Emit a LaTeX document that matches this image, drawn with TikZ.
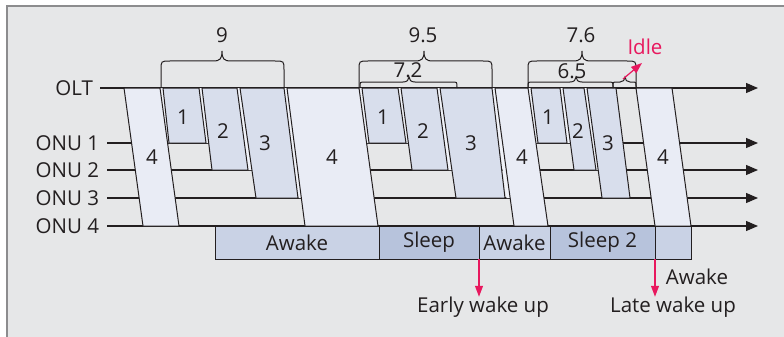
\documentclass[tikz,border=0pt]{standalone}
\usepackage{fontspec}
\setmainfont{Open Sans}
\usetikzlibrary{arrows.meta,calc}
\definecolor{bg}{RGB}{230,231,232}
\definecolor{framec}{RGB}{140,140,142}
\definecolor{ink}{RGB}{35,31,32}
\definecolor{slotf}{RGB}{216,222,236}
\definecolor{slotg}{RGB}{233,236,245}
\definecolor{gapf}{RGB}{240,242,248}
\definecolor{awakef}{RGB}{201,210,229}
\definecolor{sleepf}{RGB}{183,195,220}
\definecolor{hot}{RGB}{232,24,94}
\newcommand\slotpg[6]{\filldraw[slotline,#1] (#2,88) -- (#3,88) -- (#6,#4) -- (#5,#4) -- cycle;}
\newcommand\gapfill[3]{\fill[gapf] (#1-1,88) -- (#2+1,88) -- ($(#2+1,88)+(0.14*#3-12.32,#3-88)$) -- ($(#1-1,88)+(0.14*#3-12.32,#3-88)$) -- cycle;}
\newcommand\bracedraw[7]{%
  \draw[bracestyle] (#1,88) -- (#1,#4+#5) .. controls (#1,#4) .. (#1+#5,#4)
   -- (#3-#6,#4) .. controls (#3-2,#4) and (#3,#4-2) .. (#3,#4-#7)
   .. controls (#3,#4-2) and (#3+2,#4) .. (#3+#6,#4)
   -- (#2-#5,#4) .. controls (#2,#4) .. (#2,#4+#5) -- (#2,88);}
\begin{document}
\begin{tikzpicture}[x=1pt,y=-1pt,
  every node/.style={text=ink,font=\fontsize{20.5}{24}\selectfont,inner sep=0pt,outer sep=0pt},
  axisline/.style={draw=ink,line width=1.1pt,-{Triangle[length=12pt,width=10pt]}},
  slotline/.style={draw=ink,line width=1pt},
  s4/.style={fill=slotg},
  sd/.style={fill=slotf},
  bracestyle/.style={draw=ink,line width=1pt},
  statebox/.style={draw=ink,line width=1pt,minimum height=33pt,anchor=north west},
  hotarrow/.style={draw=hot,line width=1.2pt,-{Triangle[length=11pt,width=8pt]}},
  hottext/.style={text=hot}]
\useasboundingbox (0,0) rectangle (784,337);
\fill[bg] (7,6) rectangle (784,337);
\draw[framec,line width=2pt] (7,337) -- (7,6) -- (784,6);
% time lines
\node[anchor=east] (olt) at (93,88) {OLT};
\node[anchor=east] (onu1) at (99,143) {ONU 1};
\node[anchor=east] (onu2) at (99,170) {ONU 2};
\node[anchor=east] (onu3) at (99,198) {ONU 3};
\node[anchor=east] (onu4) at (99,226) {ONU 4};
\coordinate (oltE) at (758,88);
\coordinate (onu1E) at (758,143);
\coordinate (onu2E) at (758,170);
\coordinate (onu3E) at (758,198);
\coordinate (onu4E) at (758,226);
\draw[axisline] ([xshift=7pt]olt.east) -- (oltE);
\draw[axisline] ([xshift=8pt]onu1.east) -- (onu1E);
\draw[axisline] ([xshift=8pt]onu2.east) -- (onu2E);
\draw[axisline] ([xshift=8pt]onu3.east) -- (onu3E);
\draw[axisline] ([xshift=8pt]onu4.east) -- (onu4E);
% light gaps between adjacent slots
\gapfill{160}{163}{143}
\gapfill{199}{202}{143}
\gapfill{237}{240}{170}
\gapfill{284}{287}{198}
\gapfill{359}{362}{143}
\gapfill{398}{401}{143}
\gapfill{437}{440}{170}
\gapfill{492}{495}{198}
\gapfill{528}{531}{143}
\gapfill{560}{563}{143}
\gapfill{584}{587}{170}
% slots cycle 1
\slotpg{s4}{124}{160}{226}{143}{179}
\slotpg{sd}{163}{199}{143}{169}{206}
\slotpg{sd}{202}{237}{170}{212}{248}
\slotpg{sd}{240}{284}{198}{256}{298}
\slotpg{s4}{287}{359}{226}{305}{378}
% cycle 2
\slotpg{sd}{362}{398}{143}{369}{406}
\slotpg{sd}{401}{437}{170}{412}{448}
\slotpg{sd}{440}{492}{198}{456}{505}
\slotpg{s4}{495}{528}{226}{514}{548}
% cycle 3
\slotpg{sd}{531}{560}{143}{538}{567}
\slotpg{sd}{563}{584}{170}{574}{596}
\slotpg{sd}{587}{616}{198}{602}{630}
\slotpg{s4}{636}{672}{226}{655}{691}
% slot labels
\node (n4a) at (152,157) {4};
\node (n1a) at (183,117) {1};
\node (n2a) at (223,131) {2};
\node (n3a) at (265,143) {3};
\node (n4b) at (332,157) {4};
\node (n1b) at (383,117) {1};
\node (n2b) at (423,131) {2};
\node (n3b) at (471,143) {3};
\node (n4c) at (522,157) {4};
\node (n1c) at (548,117) {1};
\node (n2c) at (578,131) {2};
\node (n3c) at (608,143) {3};
\node (n4d) at (663,157) {4};
% braces
\bracedraw{161}{284}{222}{61}{9}{9}{10}
\bracedraw{359}{492}{424}{61}{9}{9}{10}
\bracedraw{528}{636}{582}{61}{9}{9}{10}
\bracedraw{360}{457}{409}{82}{5}{6}{5}
\bracedraw{528}{613}{576}{82}{5}{6}{5}
\bracedraw{613}{636}{625}{82}{4}{5}{5}
\node (b9) at (222,35) {9};
\node (b95) at (423,35) {9.5};
\node (b76) at (581,35) {7.6};
\node (b72) at (408,70) {7.2};
\node (b65) at (572,71) {6.5};
% idle
\node[hottext] (idle) at (645,47) {Idle};
\coordinate (idleS) at (623,79);
\coordinate (idleT) at (642,63);
\draw[hotarrow] (idleS) -- (idleT);
% state boxes
\node[statebox,fill=awakef,minimum width=164pt] (aw1) at (215,226) {Awake};
\node[statebox,fill=sleepf,minimum width=100pt] (sl1) at (aw1.north east) {Sleep};
\node[statebox,fill=awakef,minimum width=71pt] (aw2) at (sl1.north east) {Awake};
\node[statebox,fill=sleepf,minimum width=105pt] (sl2) at (aw2.north east) {Sleep 2};
\node[statebox,fill=awakef,minimum width=36pt] (aw3) at (sl2.north east) {};
% wake-up markers
\node (early) at (483,307) {Early wake up};
\node (late) at (673,307) {Late wake up};
\node (awl) at (697,277) {Awake};
\draw[hotarrow] (sl1.south east) -- (sl1.south east |- early.north);
\draw[hotarrow] (sl2.south east) -- (sl2.south east |- late.north);
\end{tikzpicture}
\end{document}
